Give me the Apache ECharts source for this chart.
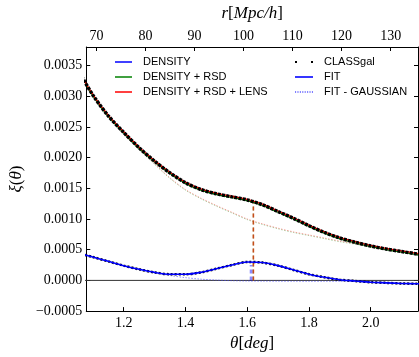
<!DOCTYPE html>
<html>
<head>
<meta charset="utf-8">
<script src="https://cdn.jsdelivr.net/npm/echarts@6/dist/echarts.min.js"></script>
<style>
  html, body { margin: 0; padding: 0; background: #fff; }
  #chart { width: 419px; height: 357px; }
</style>
</head>
<body>
<div id="chart"></div>
<script>
// angular separation grid [deg]
const thetaVals = [1.05, 1.10, 1.15, 1.20, 1.25, 1.30, 1.35, 1.40, 1.45, 1.50, 1.55, 1.60,
  1.65, 1.70, 1.75, 1.80, 1.85, 1.90, 1.95, 2.00, 2.05, 2.10, 2.15, 2.20];

// upper curves: density + rsd (green), density + rsd + lens (red), CLASSgal points
const xiRsd = [0.00343, 0.00301, 0.00267, 0.00240, 0.00215, 0.00193, 0.00174, 0.00158, 0.00147, 0.00140, 0.00135, 0.00130,
  0.00122, 0.00111, 0.00100, 0.00088, 0.00077, 0.00068, 0.00061, 0.00055, 0.00050, 0.00046, 0.00042, 0.00039];
const xiLens = [0.00345, 0.00303, 0.00269, 0.00242, 0.00217, 0.00195, 0.00176, 0.00160, 0.00149, 0.00142, 0.00137, 0.00132,
  0.00124, 0.00113, 0.00102, 0.00090, 0.00079, 0.00070, 0.00063, 0.00057, 0.00052, 0.00048, 0.00044, 0.00041];
const classRsd = [0.00344, 0.00302, 0.00268, 0.00241, 0.00216, 0.00194, 0.00175, 0.00159, 0.00148, 0.00141, 0.00136, 0.00131,
  0.00123, 0.00112, 0.00101, 0.00089, 0.00078, 0.00069, 0.00062, 0.00056, 0.00051, 0.00047, 0.00043, 0.00040];
const gaussRsd = [0.00343, 0.00301, 0.00267, 0.00239, 0.00213, 0.00189, 0.00166, 0.00147, 0.00133, 0.00121, 0.00110, 0.00099,
  0.00091, 0.00084, 0.00078, 0.00073, 0.00068, 0.00063, 0.00059, 0.00055, 0.00050, 0.00046, 0.00042, 0.00039];
const gaussLens = [0.00344, 0.00302, 0.00268, 0.00240, 0.00214, 0.00190, 0.00167, 0.00148, 0.00134, 0.00122, 0.00111, 0.00100,
  0.00092, 0.00085, 0.00079, 0.00074, 0.00069, 0.00064, 0.00060, 0.00056, 0.00051, 0.00047, 0.00043, 0.00040];

// lower curves: density only
const xiDensity = [0.00045, 0.00038, 0.00031, 0.00024, 0.00018, 0.00013, 0.00010, 0.00010, 0.00013, 0.00019, 0.00025, 0.00030,
  0.00029, 0.00024, 0.00017, 0.00010, 0.00005, 0.00001, -0.00001, -0.00003, -0.00004, -0.00005, -0.000055, -0.00006];
const gaussDensity = [0.00045, 0.00038, 0.00031, 0.00024, 0.00018, 0.00013, 0.00008, 0.000045, 0.00002, 0.000005, -0.000005, -0.00001,
  -0.000012, -0.000013, -0.000014, -0.000015, -0.000015, -0.000015, -0.00002, -0.00003, -0.00004, -0.00005, -0.000055, -0.00006];

// BAO peak positions [theta, xi]
const peakRsd = [1.62, 0.00127];
const peakDensity = [1.613, 0.00025];

// axes
const thetaMin = 1.079, thetaMax = 2.153;
const rPerDeg = 62.97; // r [Mpc/h] per degree
const thetaTicks = [1.2, 1.4, 1.6, 1.8, 2.0];
const rTicks = [70, 80, 90, 100, 110, 120, 130];
const xiMin = -0.0005, xiMax = 0.0038;
const xiTicks = [-0.0005, 0, 0.0005, 0.0010, 0.0015, 0.0020, 0.0025, 0.0030, 0.0035];

const pairs = (ys) => thetaVals.map((t, i) => [t, ys[i]]);

const SERIF = 'Liberation Serif';
const SANS = 'Liberation Sans';

// legend icons
const solidIcon = 'path://M0,0h17v1.5h-17z';
let dotted = '';
for (let x = 0; x < 17; x += 2.4) dotted += 'M' + x + ',0h1.1v1.1h-1.1z';
const dottedIcon = 'path://' + dotted;
const dotsIcon = 'path://M0,0h2v2h-2zM16,0h2v2h-2z';

const chart = echarts.init(document.getElementById('chart'));

const tickStyle = { color: '#000', width: 1 };
const labelStyle = { fontFamily: SERIF, fontSize: 14, color: '#000' };
const nameStyle = {
  fontFamily: SERIF, fontSize: 17, color: '#000',
  rich: { i: { fontFamily: SERIF, fontSize: 17, fontStyle: 'italic', color: '#000' } }
};
const legendText = { fontFamily: SANS, fontSize: 11, color: '#000', lineHeight: 13, padding: [0, 0, 0, 6] };

const line = (name, ys, color, width, type, opacity) => ({
  name, type: 'line', data: pairs(ys), smooth: 0.3, symbol: 'none', silent: true,
  lineStyle: { color, width, type: type || 'solid', opacity: opacity == null ? 1 : opacity },
  itemStyle: { color }
});

const option = {
  animation: false,
  grid: { left: 80, right: 1, top: 47, bottom: 37 },
  xAxis: [
    {
      type: 'value', position: 'bottom', min: thetaMin, max: thetaMax,
      axisLine: { show: true, onZero: false, lineStyle: tickStyle },
      axisTick: { show: true, inside: true, length: 4, customValues: thetaTicks, lineStyle: tickStyle },
      axisLabel: { ...labelStyle, margin: 5, customValues: thetaTicks, formatter: (v) => v.toFixed(1) },
      splitLine: { show: false },
      name: '{i|θ}[{i|deg}]', nameLocation: 'middle', nameGap: 20, nameTextStyle: nameStyle
    },
    {
      type: 'value', position: 'top', min: thetaMin * rPerDeg, max: thetaMax * rPerDeg,
      axisLine: { show: true, onZero: false, lineStyle: tickStyle },
      axisTick: { show: true, inside: true, length: 4, customValues: rTicks, lineStyle: tickStyle },
      axisLabel: { ...labelStyle, margin: 4, customValues: rTicks },
      splitLine: { show: false },
      name: '{i|r}[{i|Mpc/h}]', nameLocation: 'middle', nameGap: 25, nameTextStyle: nameStyle
    }
  ],
  yAxis: [
    {
      type: 'value', position: 'left', min: xiMin, max: xiMax,
      axisLine: { show: true, onZero: false, lineStyle: tickStyle },
      axisTick: { show: true, inside: true, length: 4, customValues: xiTicks, lineStyle: tickStyle },
      axisLabel: {
        ...labelStyle, margin: 4, customValues: xiTicks,
        formatter: (v) => (v < 0 ? '\u2212' + Math.abs(v).toFixed(4) : v.toFixed(4))
      },
      splitLine: { show: false },
      name: '{i|ξ}({i|θ})', nameLocation: 'middle', nameGap: 61, nameTextStyle: nameStyle
    },
    {
      type: 'value', position: 'right', min: xiMin, max: xiMax,
      axisLine: { show: true, onZero: false, lineStyle: tickStyle },
      axisTick: { show: true, inside: true, length: 4, customValues: xiTicks, lineStyle: tickStyle },
      axisLabel: { show: false },
      splitLine: { show: false }
    }
  ],
  legend: [
    {
      left: 115, top: 55.5, padding: 0, orient: 'vertical', itemWidth: 17, itemHeight: 10, itemGap: 2,
      selectedMode: false, itemStyle: { borderWidth: 0 }, textStyle: legendText,
      data: [
        { name: 'DENSITY', icon: solidIcon, itemStyle: { color: '#0000ff' } },
        { name: 'DENSITY + RSD', icon: solidIcon, itemStyle: { color: '#008000' } },
        { name: 'DENSITY + RSD + LENS', icon: solidIcon, itemStyle: { color: '#ff0000' } }
      ]
    },
    {
      left: 295, top: 55.5, padding: 0, orient: 'vertical', itemWidth: 18, itemHeight: 10, itemGap: 2,
      selectedMode: false, itemStyle: { borderWidth: 0 }, textStyle: legendText,
      data: [
        { name: 'CLASSgal', icon: dotsIcon, itemStyle: { color: '#000' } },
        { name: 'FIT', icon: solidIcon, itemStyle: { color: '#0000ff' } },
        { name: 'FIT - GAUSSIAN', icon: dottedIcon, itemStyle: { color: '#0000ff' } }
      ]
    }
  ],
  series: [
    // zero line
    {
      name: 'zero', type: 'line', silent: true, symbol: 'none',
      data: [[1.0, 0], [2.3, 0]],
      lineStyle: { color: '#333', width: 1 }
    },
    // gaussian-only fits (dotted, pale)
    line('gauss rsd', gaussRsd, '#50b050', 1, [1.5, 1.5], 0.5),
    line('gauss lens', gaussLens, '#ff6060', 1, [1.5, 1.5], 0.55),
    line('gauss density', gaussDensity, '#4040ff', 1, [1.5, 1.5], 0.6),
    // peak positions
    {
      name: 'peak density', type: 'line', silent: true, symbol: 'none',
      data: [[peakDensity[0], 0], peakDensity],
      lineStyle: { color: '#0000ff', width: 3, type: [4, 3], opacity: 0.45 }
    },
    {
      name: 'peak rsd', type: 'line', silent: true, symbol: 'none',
      data: [[peakRsd[0], 0], peakRsd],
      lineStyle: { color: '#008000', width: 1.2, type: [4, 3], opacity: 0.5 }
    },
    {
      name: 'peak lens', type: 'line', silent: true, symbol: 'none',
      data: [[peakRsd[0], 0], peakRsd],
      lineStyle: { color: '#d04010', width: 1.6, type: [4, 3], opacity: 0.9 }
    },
    // full fits and CLASSgal points
    line('DENSITY + RSD', xiRsd, '#008000', 1.3),
    line('DENSITY + RSD + LENS', xiLens, '#ff0000', 1.3),
    line('CLASSgal', classRsd, '#000', 3.5, [3, 1.2]),
    line('CLASSgal', xiDensity, '#000', 2.5, [2, 2]),
    line('DENSITY', xiDensity, '#0000ff', 1.6),
    // legend-only entries
    { name: 'FIT', type: 'line', data: [], symbol: 'none', lineStyle: { color: '#0000ff', width: 1.5 } },
    { name: 'FIT - GAUSSIAN', type: 'line', data: [], symbol: 'none', lineStyle: { color: '#0000ff', width: 1, type: [1, 1.5] } }
  ]
};

chart.setOption(option);
</script>
</body>
</html>
